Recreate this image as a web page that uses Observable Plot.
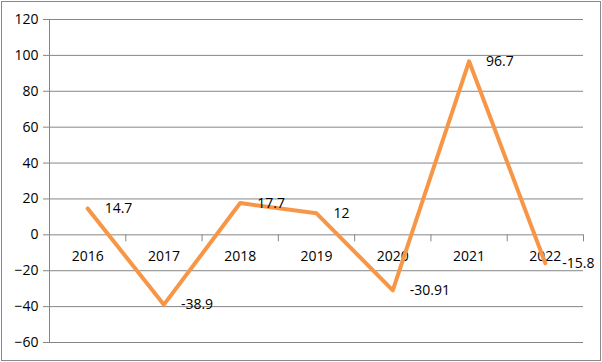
<!DOCTYPE html>
<html>
<head>
<meta charset="utf-8">
<script src="https://cdn.jsdelivr.net/npm/d3@7"></script>
<script src="https://cdn.jsdelivr.net/npm/@observablehq/plot@0.6"></script>
<style>
  html, body { margin: 0; padding: 0; background: #fff; }
  #chart svg { display: block; outline: 1px solid #8a8a8a; outline-offset: -2px; }
</style>
</head>
<body>
<div id="chart"></div>
<script>
const years = ["2016", "2017", "2018", "2019", "2020", "2021", "2022"];
const values = [14.7, -38.9, 17.7, 12, -30.91, 96.7, -15.8];
const valueLabels = ["14.7", "-38.9", "17.7", "12", "-30.91", "96.7", "-15.8"];
const yTicks = [-60, -40, -20, 0, 20, 40, 60, 80, 100, 120];

const data = years.map((y, i) => ({i, year: y, value: values[i], label: valueLabels[i]}));
const boundaries = d3.range(years.length).map(i => i + 0.5);

const gridColor = "#868686";
const font = "Open Sans";

const chart = Plot.plot({
  width: 602,
  height: 362,
  marginLeft: 49,
  marginRight: 19,
  marginTop: 19,
  marginBottom: 20,
  style: {fontFamily: font, fontSize: "14px", color: "#000", background: "#fff", overflow: "visible"},
  x: {type: "linear", domain: [-0.5, years.length - 0.5], axis: null},
  y: {domain: [-60, 120], axis: null},
  marks: [
    Plot.ruleY(yTicks, {stroke: gridColor, strokeWidth: 1}),
    Plot.ruleX([-0.5], {stroke: gridColor, strokeWidth: 1}),
    Plot.axisY(yTicks, {tickSize: 6, tickPadding: 5, stroke: gridColor, fill: "#000", fontSize: 14, label: null}),
    Plot.ruleX(boundaries, {x: d => d, y1: 0, y2: 0, insetBottom: -7, stroke: gridColor}),
    Plot.text(data, {x: "i", y: 0, text: "year", dy: 22, fill: "#000", fontSize: 14}),
    Plot.line(data, {x: "i", y: "value", stroke: "#F79646", strokeWidth: 4}),
    Plot.text(data, {x: "i", y: "value", text: "label", dx: 17, textAnchor: "start", fill: "#000", fontSize: 14})
  ]
});
document.getElementById("chart").appendChild(chart);
</script>
</body>
</html>
